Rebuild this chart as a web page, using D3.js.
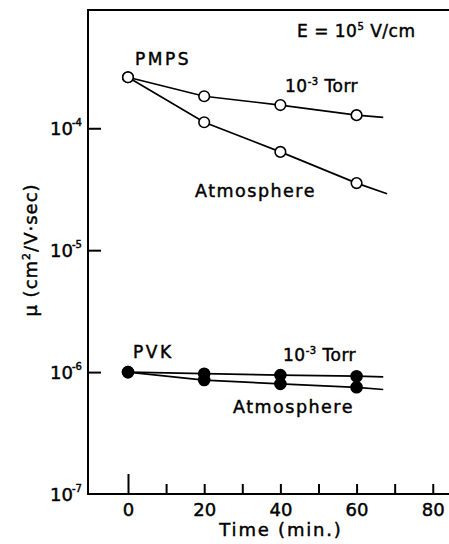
<!DOCTYPE html>
<html>
<head>
<meta charset="utf-8">
<script src="https://cdn.jsdelivr.net/npm/d3@7"></script>
<style>
  html, body { margin: 0; padding: 0; background: #fff; }
  svg { display: block; }
  text { font-family: "DejaVu Sans", "Liberation Sans", sans-serif; fill: #000; stroke: #000; stroke-width: 0.45px; }
</style>
</head>
<body>
<svg id="chart" width="449" height="544"></svg>
<script>
// ---- data ----
const times = [0, 20, 40, 60];
const pmpsTorr = [2.62e-4, 1.83e-4, 1.55e-4, 1.28e-4];
const pmpsAtm  = [2.62e-4, 1.12e-4, 6.4e-5, 3.55e-5];
const pvkTorr  = [1.0e-6, 0.97e-6, 0.945e-6, 0.925e-6];
const pvkAtm   = [1.0e-6, 0.86e-6, 0.80e-6, 0.75e-6];
// where each drawn line stops (beyond the last measured point)
const lineEndTimes  = [67, 68, 67, 67];
const lineEndValues = [1.23e-4, 2.9e-5, 0.915e-6, 0.72e-6];

const xTicks = [0, 10, 20, 30, 40, 50, 60, 70, 80];
const xTickLabels = [0, 20, 40, 60, 80];
const yTicks = [1e-4, 1e-5, 1e-6, 1e-7];
const yTickExps = ["-4", "-5", "-6", "-7"];

// ---- layout ----
const svg = d3.select("#chart");
const mLeft = 88, mRight = 448, mTop = 10, mBottom = 494;

const x = d3.scaleLinear().domain([-10.5, 84]).range([mLeft, mRight]);
const y = d3.scaleLog().domain([1e-7, Math.pow(10, -3.03)]).range([mBottom, mTop]);

// frame: top line
svg.append("line")
  .attr("x1", mLeft - 1).attr("x2", 449).attr("y1", mTop).attr("y2", mTop)
  .attr("stroke", "#000").attr("stroke-width", 2);

// y axis
const yAxis = svg.append("g")
  .attr("transform", `translate(${mLeft},0)`)
  .call(d3.axisLeft(y).tickValues(yTicks).tickSize(-13).tickSizeOuter(0).tickFormat(""));
yAxis.select(".domain").attr("stroke-width", 2).attr("d", `M0,${mTop}V${mBottom}`);
yAxis.selectAll(".tick line").attr("stroke-width", 2)
  .filter(d => d === 1e-7).remove();

yAxis.selectAll(".tick").each(function(d, i) {
  const g = d3.select(this);
  g.append("text")
    .attr("x", -15).attr("dy", "0.36em")
    .attr("text-anchor", "end")
    .style("font-size", "18px").text("10");
  g.append("text")
    .attr("x", -16).attr("dy", "-0.3em")
    .attr("text-anchor", "start")
    .style("font-size", "10px").text(yTickExps[i]);
});

// x axis
const xAxis = svg.append("g")
  .attr("transform", `translate(0,${mBottom})`)
  .call(d3.axisBottom(x).tickValues(xTicks).tickSize(-10).tickSizeOuter(0)
    .tickFormat(d => xTickLabels.includes(d) ? d : ""));
xAxis.select(".domain").attr("stroke-width", 2).attr("d", `M${mLeft - 1},0H449`);
xAxis.selectAll(".tick line").attr("stroke-width", 2)
  .attr("y2", d => d === 0 ? -20 : -10);
xAxis.selectAll(".tick text")
  .attr("y", 9).attr("dy", "0.71em")
  .style("font-size", "18px");

// axis titles
svg.append("text")
  .attr("x", 281).attr("y", 536)
  .attr("text-anchor", "middle")
  .style("font-size", "18px").style("letter-spacing", "1.8px")
  .text("Time (min.)");

const yt = svg.append("text")
  .attr("transform", "translate(37,250) rotate(-90)")
  .attr("text-anchor", "middle")
  .style("font-size", "18px").style("letter-spacing", "1px");
yt.append("tspan").text("μ (cm");
yt.append("tspan").attr("dy", "-7").style("font-size", "11px").text("2");
yt.append("tspan").attr("dy", "7").text("/V·sec)");

// ---- series ----
const series = [
  { values: pmpsTorr, filled: false },
  { values: pmpsAtm,  filled: false },
  { values: pvkTorr,  filled: true },
  { values: pvkAtm,   filled: true }
];
const line = d3.line().x(d => x(d[0])).y(d => y(d[1]));

series.forEach((s, i) => {
  const pts = times.map((t, j) => [t, s.values[j]]);
  pts.push([lineEndTimes[i], lineEndValues[i]]);
  svg.append("path").datum(pts)
    .attr("d", line).attr("fill", "none")
    .attr("stroke", "#000").attr("stroke-width", 1.7);
});
series.forEach((s) => {
  svg.append("g").selectAll("circle")
    .data(times.map((t, j) => [t, s.values[j]]))
    .join("circle")
    .attr("cx", d => x(d[0])).attr("cy", d => y(d[1]))
    .attr("r", s.filled ? 5.5 : 5.3)
    .attr("fill", s.filled ? "#000" : "#fff")
    .attr("stroke", "#000").attr("stroke-width", 1.6);
});

// ---- annotations ----
function label(xp, yp, size, spacing, parts) {
  const t = svg.append("text").attr("x", xp).attr("y", yp)
    .style("font-size", size + "px").style("letter-spacing", spacing + "px");
  parts.forEach(p => {
    const ts = t.append("tspan").text(p.t);
    if (p.sup) ts.attr("dy", "-7").style("font-size", "10px");
    if (p.down) ts.attr("dy", "7");
  });
  return t;
}
label(297, 37, 17, 0.5, [{t: "E = 10"}, {t: "5", sup: true}, {t: " V/cm", down: true}]);
label(135, 65, 17, 2.5, [{t: "PMPS"}]);
label(285, 92, 17, 0.5, [{t: "10"}, {t: "-3", sup: true}, {t: " Torr", down: true}]);
label(195, 197, 17.5, 1.5, [{t: "Atmosphere"}]);
label(133, 358, 17, 2.5, [{t: "PVK"}]);
label(283, 361, 17, 0.5, [{t: "10"}, {t: "-3", sup: true}, {t: " Torr", down: true}]);
label(233, 413, 17.5, 1.5, [{t: "Atmosphere"}]);
</script>
</body>
</html>
